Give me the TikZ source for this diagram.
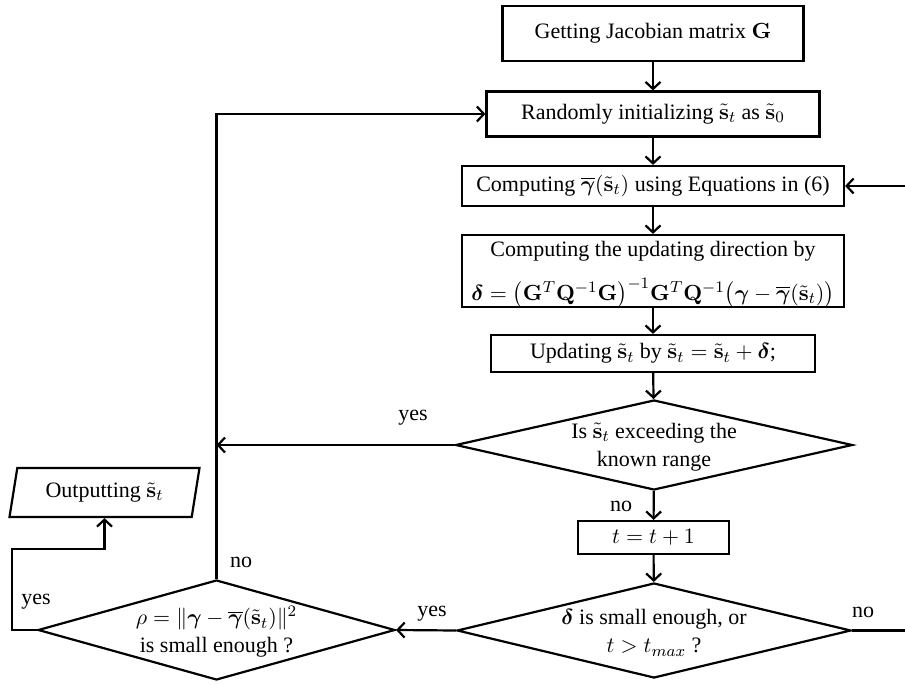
\documentclass[tikz,border=0pt]{standalone}
\usepackage{amsmath,bm}
\usepackage[no-math]{fontspec}
\setmainfont{Liberation Serif}
\usetikzlibrary{shapes.geometric,arrows.meta}
\newcommand{\sv}{\tilde{\mathbf{s}}}
\newcommand{\gb}{\overline{\bm{\gamma}}}
\begin{document}
\begin{tikzpicture}[x=0.5pt,y=-0.5pt,
  line width=1.1pt,
  every node/.style={font=\fontsize{11}{14}\selectfont},
  procbox/.style={draw, rectangle, inner sep=0pt, align=center},
  decbox/.style={draw, diamond, inner sep=0pt, aspect=4},
  txt/.style={inner sep=0pt, align=center},
  lbl/.style={inner sep=0pt},
  arr/.style={-{Straight Barb[length=3.5pt,width=7.5pt,line width=1.1pt]}}]
\useasboundingbox (0,0) rectangle (905,685);

\node[procbox, minimum width=150.5pt, minimum height=27.5pt] (b1) at (653,33.5) {Getting Jacobian matrix $\mathbf{G}$};
\node[procbox, minimum width=166.5pt, minimum height=22.5pt] (b2) at (653,114) {Randomly initializing $\sv_t$ as $\sv_0$};
\node[procbox, minimum width=191pt, minimum height=20pt] (b3) at (653,186) {Computing $\gb(\sv_t)$ using Equations in (6)};
\node[procbox, minimum width=191pt, minimum height=36pt] (b4) at (653,271) {};
\node[txt] (b4a) at (653,251) {Computing the updating direction by};
\node[txt] (b4b) at (653,293) {$\bm{\delta}=\bigl(\mathbf{G}^T\mathbf{Q}^{-1}\mathbf{G}\bigr)^{-1}\mathbf{G}^T\mathbf{Q}^{-1}\bigl(\bm{\gamma}-\gb(\sv_t)\bigr)$};
\node[procbox, minimum width=162pt, minimum height=18.5pt] (b5) at (653,353.5) {Updating $\sv_t$ by $\sv_t=\sv_t+\bm{\delta}$;};

\node[decbox, minimum width=198.5pt, minimum height=45pt] (d1) at (654,445) {};
\node[txt] (d1t) at (654,447) {Is $\sv_t$ exceeding the\\known range};

\node[procbox, minimum width=75.5pt, minimum height=16.5pt] (b6) at (653.5,537.5) {$t=t+1$};

\node[decbox, minimum width=197pt, minimum height=47.5pt] (d2) at (654,630.5) {};
\node[txt] (d2t) at (654,633) {$\bm{\delta}$ is small enough, or\\$t>t_{max}$ ?};

\node[decbox, minimum width=178.5pt, minimum height=50pt] (d3) at (216.5,630) {};
\node[txt] (d3t) at (216.5,632) {$\rho=\|\bm{\gamma}-\gb(\sv_t)\|^2$\\is small enough ?};

\node[draw, trapezium, trapezium left angle=75, trapezium right angle=105,
  trapezium stretches=true, inner sep=0pt, minimum width=95.5pt, minimum height=24.5pt] (out) at (104.5,492.5) {Outputting $\sv_t$};

\coordinate (k) at (12,549);
\coordinate (e1) at (905,630.5);
\coordinate (e2) at (905,186);

\draw[arr] (b1) -- (b2);
\draw[arr] (b2) -- (b3);
\draw[arr] (b3) -- (b4);
\draw[arr] (b4) -- (b5);
\draw[arr] (b5) -- (d1);
\draw[arr] (d1) -- (b6);
\draw[arr] (b6) -- (d2);
\draw[arr] (d2.west) -- (d3.east);
\draw[arr] (d3.north) |- (b2.west);
\draw[arr] (d1.west) -- (d1.west -| d3.north);
\draw[arr] (d3.west) -| (k) -| (out.south);
\draw (d2.east) -- (e1);
\draw[arr] (e2) -- (b3.east);

\node[lbl] (l1) at (413,418) {yes};
\node[lbl] (l2) at (241,562) {no};
\node[lbl] (l3) at (36,602) {yes};
\node[lbl] (l4) at (432,614) {yes};
\node[lbl] (l5) at (621,506) {no};
\node[lbl] (l6) at (863,612) {no};
\end{tikzpicture}
\end{document}
